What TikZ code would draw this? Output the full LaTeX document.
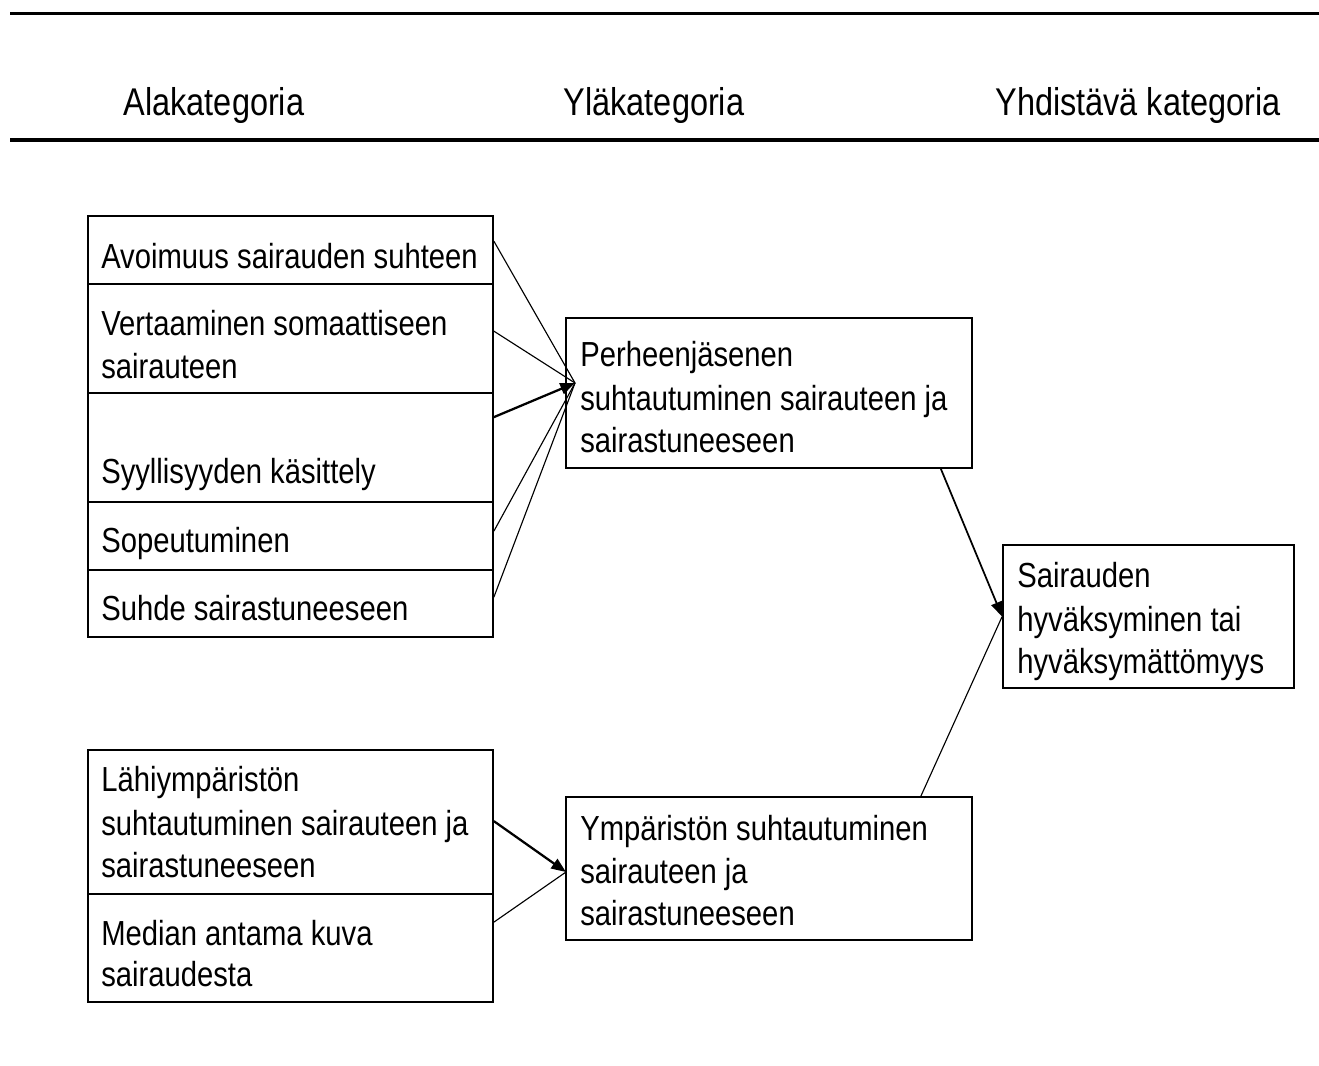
\documentclass[tikz,border=0pt]{standalone}
\usepackage{fontspec}
\setmainfont{Liberation Sans}[FakeStretch=0.84]
\usetikzlibrary{fit,calc,arrows.meta}
\begin{document}
\begin{tikzpicture}[x=0.75pt,y=-0.75pt,
  box/.style={draw,line width=1.3pt,inner sep=0pt},
  txt/.style={anchor=base west,inner sep=0pt,font=\fontsize{26.1}{32}\selectfont},
  hdr/.style={anchor=base,inner sep=0pt,font=\fontsize{29}{34}\selectfont},
  rulestyle/.style={line width=2.5pt},
  thinline/.style={line width=0.85pt},
  thickarrow/.style={line width=1.7pt,-{Triangle[length=11pt,width=8.5pt]}},
  medarrow/.style={line width=1.3pt,-{Triangle[length=11pt,width=8.5pt]}},
 ]
\useasboundingbox (0,0) rectangle (1319,1065);

% header rules
\coordinate (t1) at (10,13.5);
\coordinate (t2) at (1319,13.5);
\coordinate (b1) at (10,140);
\coordinate (b2) at (1319,140);
\draw[rulestyle] (t1) -- (t2);
\draw[rulestyle] (b1) -- (b2);

% headers
\node[hdr] (h1) at (214,115) {Alakategoria};
\node[hdr] (h2) at (654,115) {Yläkategoria};
\node[hdr] (h3) at (1138,115) {Yhdistävä kategoria};

% upper left group
\node[box,fit={(88,216) (493,284)}] (r1) {};
\node[box,fit={(88,284) (493,393)}] (r2) {};
\node[box,fit={(88,393) (493,502)}] (r3) {};
\node[box,fit={(88,502) (493,570)}] (r4) {};
\node[box,fit={(88,570) (493,637)}] (r5) {};
\node[txt] (r1a) at (101,268) {Avoimuus sairauden suhteen};
\node[txt] (r2a) at (101,335) {Vertaaminen somaattiseen};
\node[txt] (r2b) at (101,378) {sairauteen};
\node[txt] (r3a) at (101,483) {Syyllisyyden käsittely};
\node[txt] (r4a) at (101,552) {Sopeutuminen};
\node[txt] (r5a) at (101,620) {Suhde sairastuneeseen};

% middle upper box
\node[box,fit={(566,318) (972,468)}] (p) {};
\node[txt] (pa) at (580,366) {Perheenjäsenen};
\node[txt] (pb) at (580,410) {suhtautuminen sairauteen ja};
\node[txt] (pc) at (580,452) {sairastuneeseen};

% lower left group
\node[box,fit={(88,750) (493,894)}] (l1) {};
\node[box,fit={(88,894) (493,1002)}] (l2) {};
\node[txt] (l1a) at (101,791) {Lähiympäristön};
\node[txt] (l1b) at (101,835) {suhtautuminen sairauteen ja};
\node[txt] (l1c) at (101,877) {sairastuneeseen};
\node[txt] (l2a) at (101,945) {Median antama kuva};
\node[txt] (l2b) at (101,986) {sairaudesta};

% middle lower box
\node[box,fit={(566,797) (972,940)}] (y) {};
\node[txt] (ya) at (580,840) {Ympäristön suhtautuminen};
\node[txt] (yb) at (580,883) {sairauteen ja};
\node[txt] (yc) at (580,925) {sairastuneeseen};

% right box
\node[box,fit={(1003,545) (1294,688)}] (s) {};
\node[txt] (sa) at (1017,587) {Sairauden};
\node[txt] (sb) at (1017,631) {hyväksyminen tai};
\node[txt] (sc) at (1017,673) {hyväksymättömyys};

% connectors
\coordinate (c1) at (575,383);
\coordinate (c2) at (566,872);
\draw[thinline] ($(r1.north east)+(0,26)$) -- (c1);
\draw[thinline] ($(r2.north east)+(0,48)$) -- (c1);
\draw[thickarrow] ($(r3.north east)+(0,25)$) -- (c1);
\draw[thinline] ($(r4.north east)+(0,30)$) -- (c1);
\draw[thinline] ($(r5.north east)+(0,28)$) -- (c1);

\draw[thickarrow] ($(l1.north east)+(0,72)$) -- (c2);
\draw[thinline] ($(l2.north east)+(0,29)$) -- (c2);

\draw[medarrow] ($(p.south east)+(-32,0)$) -- (s.west);
\draw[thinline] ($(y.north east)+(-52,0)$) -- (s.west);
\end{tikzpicture}
\end{document}
